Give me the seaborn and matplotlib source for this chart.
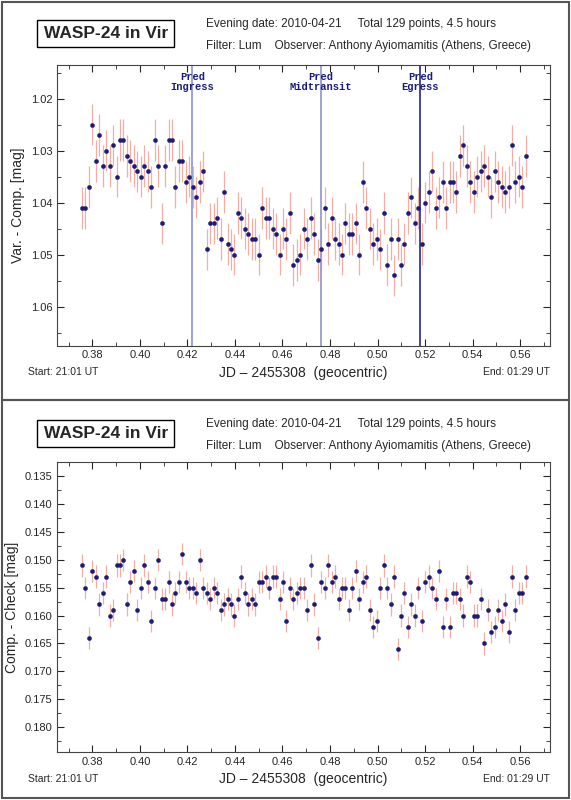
import matplotlib
matplotlib.use("Agg")
import matplotlib.pyplot as plt
from matplotlib.patches import Rectangle
from matplotlib.ticker import MultipleLocator
import seaborn as sns
import numpy as np
import pandas as pd

# observation times (even cadence, 129 points)
jd = np.linspace(0.3756, 0.5624, 129)

var_comp = [
    1.0410, 1.0410, 1.0370, 1.0250, 1.0320, 1.0270, 1.0330, 1.0300, 1.0330, 1.0290,
    1.0350, 1.0280, 1.0280, 1.0310, 1.0320, 1.0330, 1.0340, 1.0350, 1.0330, 1.0340,
    1.0370, 1.0280, 1.0330, 1.0440, 1.0330, 1.0280, 1.0280, 1.0370, 1.0320, 1.0320,
    1.0360, 1.0350, 1.0370, 1.0390, 1.0360, 1.0340, 1.0490, 1.0440, 1.0440, 1.0430,
    1.0470, 1.0380, 1.0480, 1.0490, 1.0500, 1.0420, 1.0430, 1.0450, 1.0460, 1.0470,
    1.0470, 1.0500, 1.0410, 1.0430, 1.0430, 1.0450, 1.0460, 1.0500, 1.0450, 1.0470,
    1.0420, 1.0520, 1.0510, 1.0500, 1.0450, 1.0470, 1.0430, 1.0460, 1.0510,
    1.0490, 1.0410, 1.0480, 1.0430, 1.0470, 1.0480, 1.0500, 1.0440, 1.0460, 1.0460,
    1.0440, 1.0500, 1.0360, 1.0410, 1.0450, 1.0480, 1.0470, 1.0490, 1.0420, 1.0520,
    1.0470, 1.0540, 1.0470, 1.0520, 1.0480, 1.0420, 1.0390, 1.0440, 1.0410, 1.0480,
    1.0400, 1.0380, 1.0340, 1.0410, 1.0390, 1.0360, 1.0410, 1.0360, 1.0360, 1.0380,
    1.0310, 1.0290, 1.0330, 1.0360, 1.0380, 1.0350, 1.0340, 1.0330, 1.0350, 1.0390,
    1.0340, 1.0360, 1.0370, 1.0380, 1.0370, 1.0290, 1.0360, 1.0350, 1.0370, 1.0310,
]

comp_check = [
    0.1510, 0.1550, 0.1640, 0.1520, 0.1530, 0.1580, 0.1560, 0.1530, 0.1600, 0.1590,
    0.1510, 0.1510, 0.1500, 0.1580, 0.1540, 0.1520, 0.1590, 0.1550, 0.1510, 0.1540,
    0.1610, 0.1550, 0.1500, 0.1570, 0.1570, 0.1540, 0.1580, 0.1560, 0.1540, 0.1490,
    0.1540, 0.1550, 0.1550, 0.1560, 0.1500, 0.1550, 0.1560, 0.1570, 0.1550, 0.1560,
    0.1590, 0.1580, 0.1570, 0.1580, 0.1600, 0.1570, 0.1530, 0.1560, 0.1580, 0.1570,
    0.1580, 0.1540, 0.1540, 0.1530, 0.1550, 0.1530, 0.1530, 0.1570, 0.1540, 0.1610,
    0.1550, 0.1570, 0.1560, 0.1550, 0.1550, 0.1590, 0.1510, 0.1580, 0.1640,
    0.1540, 0.1550, 0.1510, 0.1540, 0.1530, 0.1570, 0.1550, 0.1550, 0.1590, 0.1550,
    0.1520, 0.1570, 0.1540, 0.1530, 0.1590, 0.1620, 0.1610, 0.1550, 0.1510, 0.1550,
    0.1580, 0.1530, 0.1660, 0.1600, 0.1560, 0.1620, 0.1580, 0.1600, 0.1550, 0.1610,
    0.1540, 0.1530, 0.1550, 0.1570, 0.1520, 0.1620, 0.1570, 0.1620, 0.1560, 0.1560,
    0.1570, 0.1600, 0.1530, 0.1540, 0.1600, 0.1600, 0.1570, 0.1650, 0.1590, 0.1630,
    0.1620, 0.1590, 0.1610, 0.1580, 0.1630, 0.1530, 0.1590, 0.1560, 0.1560, 0.1530,
]

err_top = 0.004
err_bot = 0.002

pred_names = ["Pred\nIngress", "Pred\nMidtransit", "Pred\nEgress"]
pred_times = [0.4221, 0.4762, 0.5180]
pred_colors = ["#8f94c8", "#8f94c8", "#2a2a70"]

title = "WASP-24 in Vir"
info1 = "Evening date: 2010-04-21     Total 129 points, 4.5 hours"
info2 = "Filter: Lum    Observer: Anthony Ayiomamitis (Athens, Greece)"

sns.set_style("ticks")
plt.rcParams["font.family"] = ["Liberation Sans", "DejaVu Sans"]

DOT = "#1c1c78"
ERR = "#ebb0a6"

fig = plt.figure(figsize=(5.71, 8.0), dpi=100)

# panel frames
for y0, h in [(0.5, 0.497), (0.003, 0.497)]:
    fig.patches.append(Rectangle((0.003, y0), 0.994, h, transform=fig.transFigure,
                                 fill=False, edgecolor="#555555", linewidth=1.5))


def header(ytop):
    fig.text(0.185, ytop, title, fontsize=12.5, fontweight="bold", ha="center", va="center",
             bbox=dict(boxstyle="square,pad=0.35", facecolor="white", edgecolor="black", linewidth=1))
    fig.text(0.36, ytop + 0.012, info1, fontsize=8.5, va="center")
    fig.text(0.36, ytop - 0.016, info2, fontsize=8.5, va="center")


def panel(rect, vals, err, ylabel, ylim, major, minor):
    ax = fig.add_axes(rect)
    df = pd.DataFrame({"jd": jd, "val": vals})
    ax.errorbar(df["jd"], df["val"], yerr=err, fmt="none", ecolor=ERR, elinewidth=0.9, zorder=1)
    sns.scatterplot(data=df, x="jd", y="val", ax=ax, color=DOT, s=9, edgecolor=DOT,
                    linewidth=0.3, zorder=3)
    ax.set_xlim(0.3652, 0.5725)
    ax.set_ylim(*ylim)
    ax.xaxis.set_major_locator(MultipleLocator(0.02))
    ax.xaxis.set_minor_locator(MultipleLocator(0.01))
    ax.yaxis.set_major_locator(MultipleLocator(major))
    ax.yaxis.set_minor_locator(MultipleLocator(minor))
    ax.xaxis.set_major_formatter(plt.FormatStrFormatter("%.2f"))
    ax.yaxis.set_major_formatter(plt.FormatStrFormatter("%.2f" if major >= 0.01 else "%.3f"))
    ax.tick_params(which="both", direction="in", top=True, right=True, labelsize=8)
    ax.tick_params(which="major", length=5)
    ax.tick_params(which="minor", length=3)
    for s in ax.spines.values():
        s.set_color("#444444")
    ax.set_xlabel("JD – 2455308  (geocentric)", fontsize=10, labelpad=4)
    ax.set_ylabel(ylabel, fontsize=10)
    ax.text(-0.06, -0.075, "Start: 21:01 UT", transform=ax.transAxes, fontsize=7.5, va="top")
    ax.text(1.0, -0.075, "End: 01:29 UT", transform=ax.transAxes, fontsize=7.5, va="top", ha="right")
    return ax


header(0.958)
ax1 = panel([0.1, 0.568, 0.863, 0.351], var_comp, err_top, "Var. - Comp. [mag]",
            (1.0675, 1.0135), 0.01, 0.005)
for name, t, c in zip(pred_names, pred_times, pred_colors):
    ax1.axvline(t, color=c, linewidth=1.2, zorder=2)
    ax1.text(t, 0.975, name, transform=ax1.get_xaxis_transform(), ha="center", va="top",
             family=["Liberation Mono", "DejaVu Sans Mono"], fontweight="bold", fontsize=7.5,
             color="#1c1c78", linespacing=1.0)

header(0.458)
ax2 = panel([0.1, 0.06, 0.863, 0.362], comp_check, err_bot, "Comp. - Check [mag]",
            (0.1845, 0.1325), 0.005, 0.0025)

fig.savefig("out.png", dpi=100)
